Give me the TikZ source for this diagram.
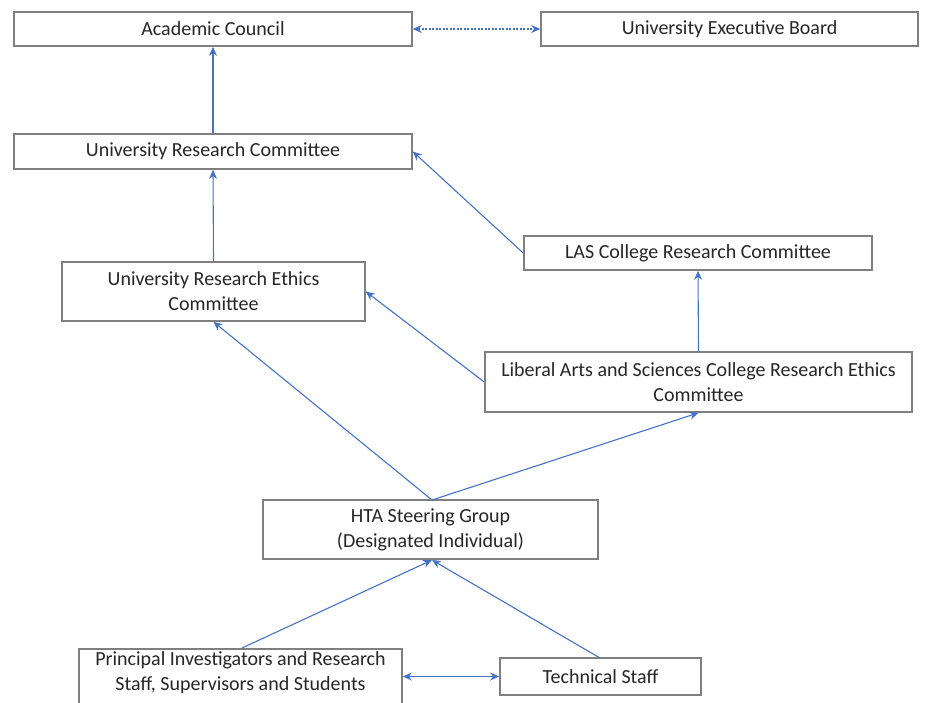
\documentclass[tikz,border=0pt]{standalone}
\usepackage{fontspec}
\setmainfont{Carlito}
\usetikzlibrary{arrows.meta}
\definecolor{boxgray}{HTML}{7F7F7F}
\definecolor{arrblue}{HTML}{4472C4}
\begin{document}
\begin{tikzpicture}[x=1pt,y=-1pt,
  box/.style={draw=boxgray,line width=1.6pt,fill=white,inner sep=0pt,align=center,
    font=\fontsize{20}{25}\selectfont,text=black!85},
  conn/.style={draw=arrblue,line width=1.1pt,-{Stealth[length=9pt,width=8pt]}},
  dconn/.style={draw=arrblue,line width=1.1pt,{Stealth[length=9pt,width=8pt]}-{Stealth[length=9pt,width=8pt]}}]
\useasboundingbox (0,0) rectangle (933,702);
\clip (0,0) rectangle (933,702);
\node[box,minimum width=398pt,minimum height=34pt] (ac) at (213,29) {Academic Council};
\node[box,minimum width=377pt,minimum height=34pt] (ueb) at (729.5,29) {University Executive Board};
\node[box,minimum width=398pt,minimum height=35pt] (urc) at (213,151.5) {University Research Committee};
\node[box,minimum width=348pt,minimum height=34pt] (lascrc) at (698,253) {LAS College Research Committee};
\node[box,minimum width=303pt,minimum height=59pt] (urec) at (213.5,291.5) {University Research Ethics\\Committee};
\node[box,minimum width=427pt,minimum height=60pt] (lascrec) at (698.5,382) {Liberal Arts and Sciences College Research Ethics\\Committee};
\node[box,minimum width=335pt,minimum height=59pt] (hta) at (430.5,529.5) {HTA Steering Group\\(Designated Individual)};
\node[box,minimum width=323pt,minimum height=70pt,anchor=north] (pi) at (240.5,648) {Principal Investigators and Research\\Staff, Supervisors and Students\\[-6pt]\strut};
\node[box,minimum width=201pt,minimum height=37pt] (ts) at (600.5,676.5) {Technical Staff};
\draw[dconn,dash pattern=on 2pt off 1.5pt] (ac.east) -- (ueb.west);
\draw[conn] (urc.north) -- (ac.south);
\draw[conn] (urec.north) -- (urc.south);
\draw[conn] (lascrc.west) -- (urc.east);
\draw[conn] (lascrec.north) -- (lascrc.south);
\draw[conn] (lascrec.west) -- (urec.east);
\coordinate (htatop) at (432,500);
\draw[conn] (htatop) -- (urec.south);
\draw[conn] (htatop) -- (lascrec.south);
\coordinate (htabot) at (432,560);
\coordinate (pitop) at (242,648);
\coordinate (tstop) at (600,658);
\draw[conn] (pitop) -- (htabot);
\draw[conn] (tstop) -- (htabot);
\draw[dconn] (pi.east |- ts.west) -- (ts.west);
\end{tikzpicture}
\end{document}
